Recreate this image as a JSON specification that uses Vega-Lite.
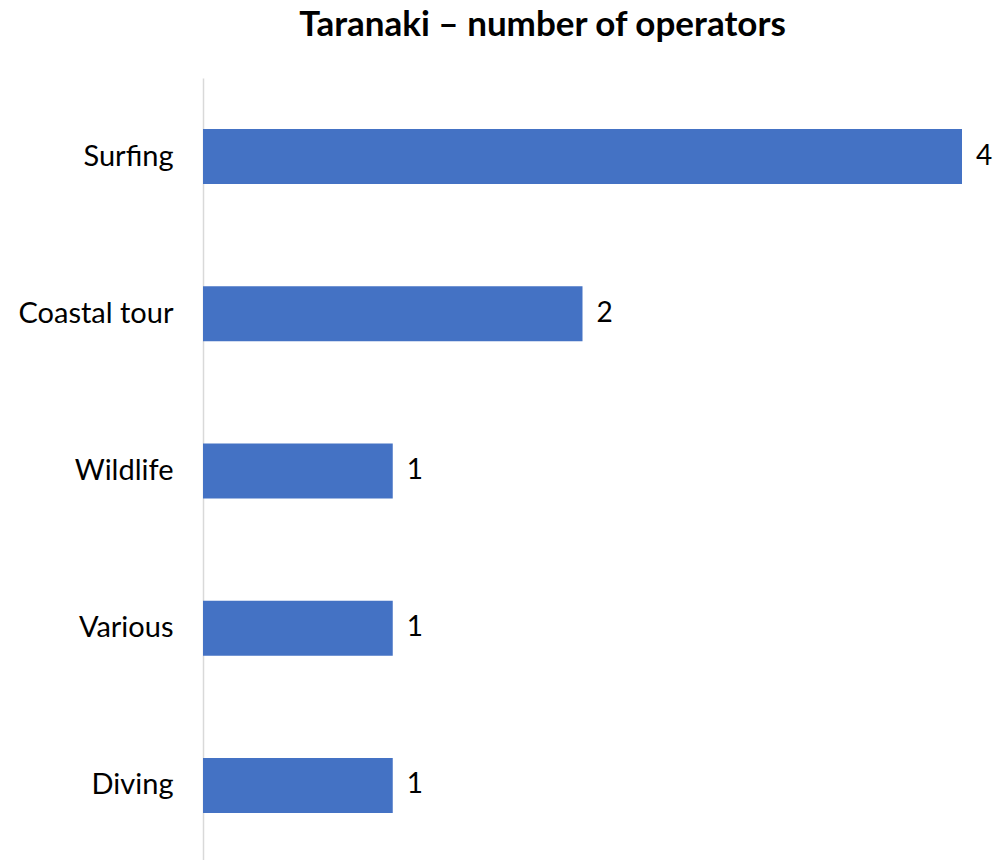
{
  "$schema": "https://vega.github.io/schema/vega-lite/v6.json",
  "autosize": "none",
  "width": 759,
  "height": 786,
  "padding": {"left": 203, "top": 78, "right": 35, "bottom": 0},
  "background": "white",
  "title": {
    "text": "Taranaki – number of operators",
    "font": "Lato",
    "fontSize": 35,
    "fontWeight": "bold",
    "color": "#000000",
    "anchor": "middle",
    "dx": -40,
    "offset": 35
  },
  "data": {
    "values": [
      {"activity": "Surfing", "operators": 4},
      {"activity": "Coastal tour", "operators": 2},
      {"activity": "Wildlife", "operators": 1},
      {"activity": "Various", "operators": 1},
      {"activity": "Diving", "operators": 1}
    ]
  },
  "encoding": {
    "y": {
      "field": "activity",
      "type": "nominal",
      "sort": null,
      "scale": {"paddingInner": 0.65, "paddingOuter": 0.325},
      "axis": {
        "title": null,
        "ticks": false,
        "domainColor": "#d9d9d9",
        "domainWidth": 1.5,
        "labelFont": "Lato",
        "labelFontSize": 29,
        "labelColor": "#000000",
        "labelPadding": 30
      }
    },
    "x": {
      "field": "operators",
      "type": "quantitative",
      "scale": {"domain": [0, 4], "nice": false},
      "axis": null
    }
  },
  "layer": [
    {"mark": {"type": "bar", "color": "#4472c4"}},
    {
      "mark": {"type": "text", "align": "left", "dx": 14, "font": "Lato", "fontSize": 28, "color": "#000000"},
      "encoding": {"text": {"field": "operators", "type": "quantitative"}}
    }
  ],
  "config": {"view": {"stroke": null}}
}
